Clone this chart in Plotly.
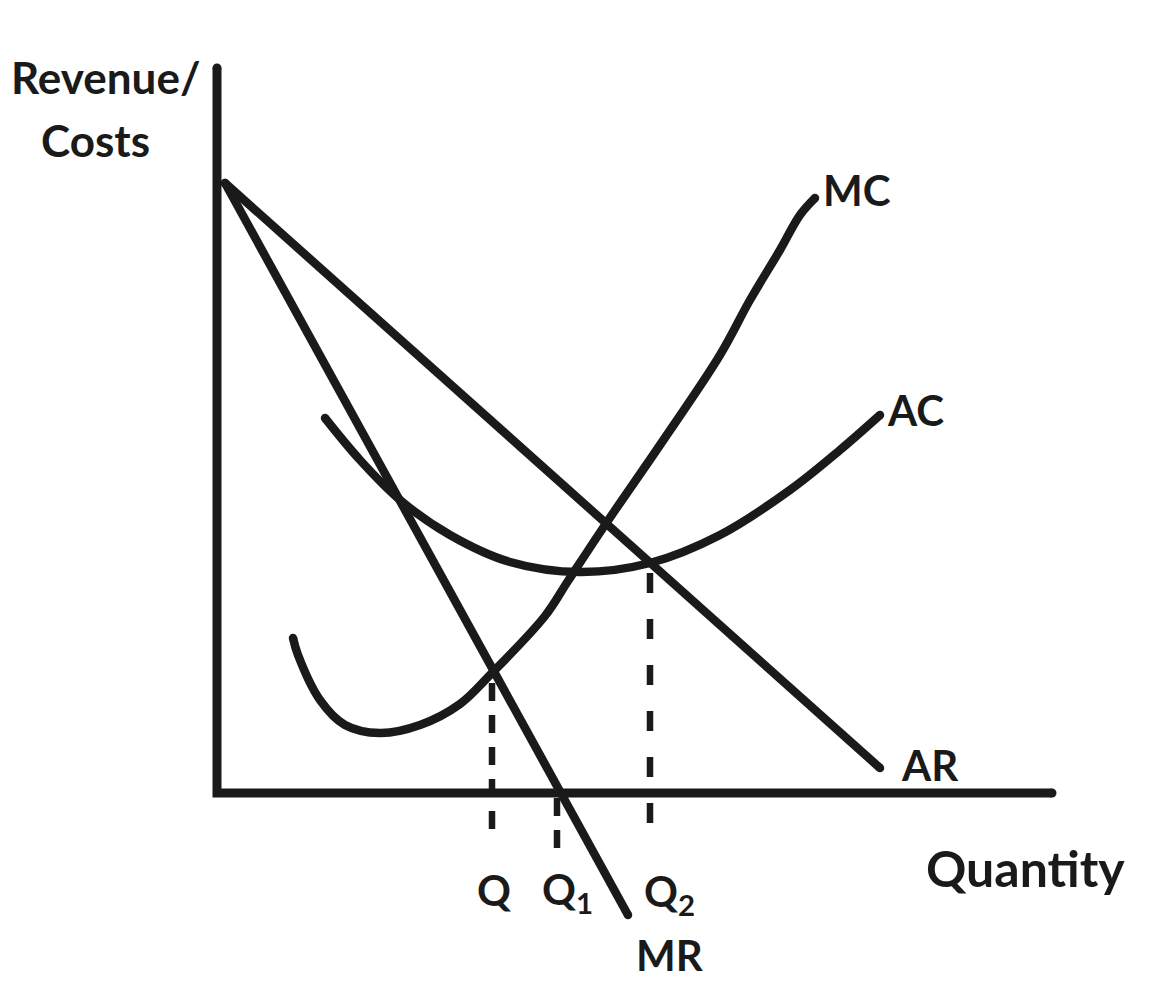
import plotly.graph_objects as go

# Data (quantity units on x, revenue/cost units on y)
ar_x = [0.8, 66.3]
ar_y = [61.0, 2.5]

mr_x = [0.8, 41.1]
mr_y = [61.0, -12.2]

mc_x = [7.6, 8.1, 10.3, 12.8, 16.3, 20.3, 24.3, 27.3, 32.8, 35.1, 38.8, 44.3, 50.3, 53.3, 56.3, 58.3, 59.8]
mc_y = [15.5, 13.8, 9.3, 6.8, 6.0, 6.8, 8.9, 11.8, 17.7, 21.2, 26.8, 34.8, 43.8, 49.3, 54.3, 57.8, 59.5]

ac_x = [10.8, 14.3, 18.3, 23.3, 29.3, 36.3, 43.3, 50.3, 57.3, 62.3, 66.3]
ac_y = [37.5, 33.3, 29.3, 25.8, 23.1, 22.1, 23.0, 25.8, 30.3, 34.3, 37.8]

q_vals = [27.5, 34.0, 43.3]
q_tops = [11.0, -0.5, 22.0]
q_bottoms = [-4.5, -5.5, -4.7]
q_labels = ["Q", "Q<sub>1</sub>", "Q<sub>2</sub>"]

axis_y_top = 72.5
axis_x_end = 83.5

BLACK = "#1a1a1a"
W = 8.5

fig = go.Figure()

def line(x, y, width=W, dash=None, shape="linear"):
    fig.add_trace(go.Scatter(
        x=x, y=y, mode="lines",
        line=dict(color=BLACK, width=width, dash=dash, shape=shape, smoothing=1.0),
        hoverinfo="skip", showlegend=False))

def caps(x, y, size=W):
    fig.add_trace(go.Scatter(
        x=x, y=y, mode="markers",
        marker=dict(color=BLACK, size=size, line=dict(width=0)),
        hoverinfo="skip", showlegend=False))

# axes
line([0, 0, axis_x_end], [axis_y_top, 0, 0], width=9)
caps([0, axis_x_end], [axis_y_top, 0], 9)

# curves
line(ar_x, ar_y)
caps(ar_x, ar_y)
line(mr_x, mr_y)
caps(mr_x, mr_y)
line(mc_x, mc_y, shape="spline")
caps([mc_x[0], mc_x[-1]], [mc_y[0], mc_y[-1]])
line(ac_x, ac_y, shape="spline")
caps([ac_x[0], ac_x[-1]], [ac_y[0], ac_y[-1]])

# dashed guides
dashes = ["18px,14px", "18px,14px", "20px,26px"]
for qx, top, bot, d in zip(q_vals, q_tops, q_bottoms, dashes):
    line([qx, qx], [top, bot], width=6.5, dash=d)

FONT = dict(family="Lato, 'Noto Sans', sans-serif", size=42, color=BLACK, weight="bold")

def label(text, x, y, size=42):
    fig.add_annotation(x=x, y=y, text=text, showarrow=False,
                       font=dict(FONT, size=size), xanchor="center", yanchor="middle")

label("Revenue/", -11.2, 71.6, size=44)
label("Costs", -12.2, 65.3, size=44)
label("MC", 64.0, 60.3)
label("AC", 69.8, 38.3)
label("AR", 71.3, 2.8)
label("Quantity", 80.8, -7.5, size=50)
for qx, t, dx, dy in zip(q_vals, q_labels, [0.2, 1.0, 1.9], [-9.7, -9.9, -10.1]):
    label(t, qx + dx, dy)
label("MR", 45.3, -16.2)

fig.update_layout(
    width=1160, height=1000,
    margin=dict(l=0, r=0, t=0, b=0),
    paper_bgcolor="white", plot_bgcolor="white",
    xaxis=dict(range=[-20.9, 95.1], visible=False, fixedrange=True),
    yaxis=dict(range=[-21.5, 78.5], visible=False, fixedrange=True),
)

fig.write_html("out.html")
